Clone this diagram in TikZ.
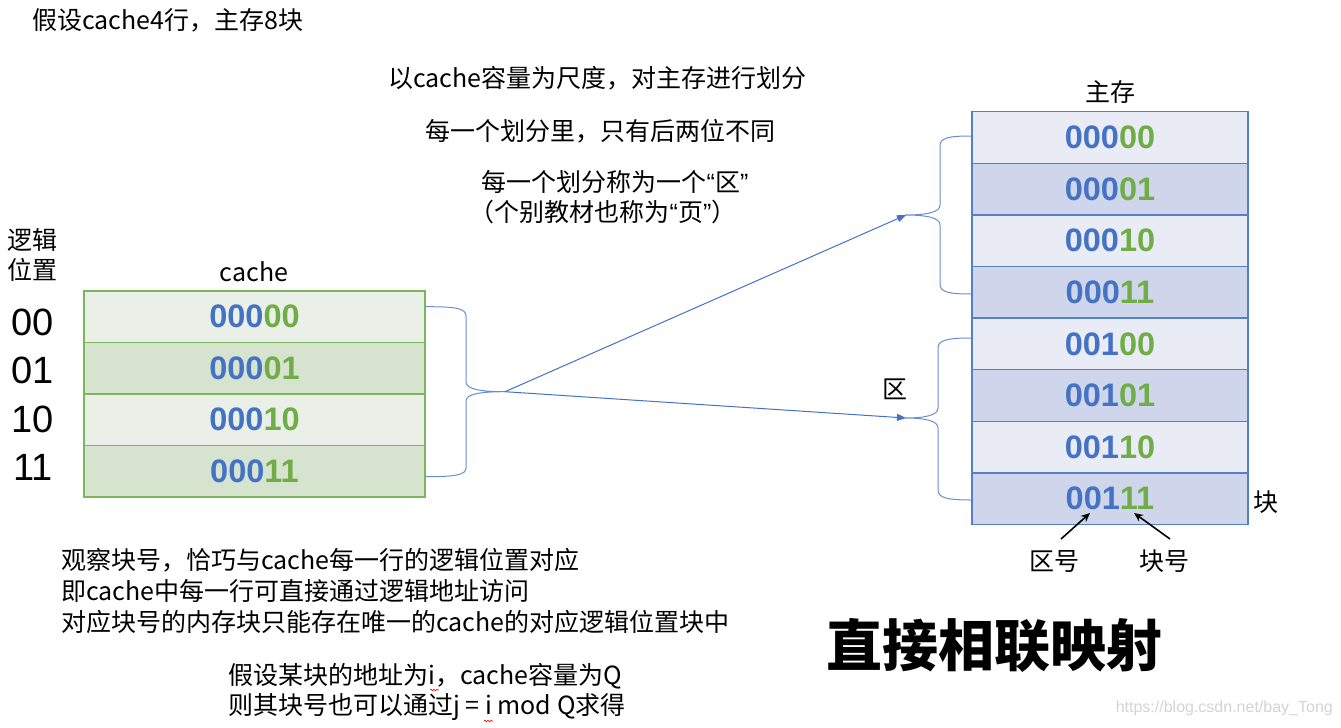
\documentclass[tikz,border=0pt]{standalone}
\usepackage{fontspec}
\setmainfont{Noto Sans CJK SC}
\newfontfamily\digfont{Liberation Sans}
\usetikzlibrary{arrows.meta,decorations.pathmorphing}
\definecolor{cblue}{HTML}{4472C4}
\definecolor{cgreen}{HTML}{70AD47}
\definecolor{cgline}{HTML}{7CB65A}
\definecolor{cglight}{HTML}{EAF0E7}
\definecolor{cgdark}{HTML}{D5E3CF}
\definecolor{mblight}{HTML}{E9EBF5}
\definecolor{mbdark}{HTML}{CFD5EA}
\definecolor{mbline}{HTML}{5580C8}
\definecolor{wmgray}{HTML}{D4D4D4}
\newcommand\bitsA[2]{\textcolor{cblue}{#1}\textcolor{cgreen}{#2}}
\newcommand\myLq{{\digfont “}}
\newcommand\myRq{{\digfont ”}}
\tikzset{
  txt/.style={inner sep=0pt, font=\fontsize{25}{31}\selectfont},
  ccell/.style={draw=cgline, line width=1.5pt, minimum width=341pt, minimum height=51.5pt, inner sep=0pt, font=\digfont\bfseries\fontsize{32.5}{36}\selectfont},
  mcell/.style={draw=mbline, line width=1.5pt, minimum width=276pt, minimum height=51.6pt, inner sep=0pt, font=\digfont\bfseries\fontsize{32.5}{36}\selectfont},
  posnum/.style={inner sep=0pt, font=\digfont\fontsize{38}{40}\selectfont},
  bracepath/.style={draw=cblue!80, line width=1pt},
  conn/.style={draw=cblue, line width=1pt, -{Triangle[length=9pt,width=7pt]}},
  blackarr/.style={draw=black, line width=1.6pt, -{Stealth[length=9pt,width=8pt]}},
  squig/.style={draw=red, line width=0.6pt, decorate, decoration={snake, amplitude=0.8pt, segment length=3pt}}
}
\begin{document}
\begin{tikzpicture}[x=1pt,y=-1pt]
\useasboundingbox (0,0) rectangle (1341,728);
\fill[white] (0,0) rectangle (1341,728);

% top texts
\node[txt, anchor=west] (t1) at (32,20) {假设cache4行，主存8块};
\node[txt, anchor=west] (t2) at (388,78) {以cache容量为尺度，对主存进行划分};
\node[txt, anchor=west] (t3) at (425,131) {每一个划分里，只有后两位不同};
\node[txt] (t4) at (615,182) {每一个划分称为一个\myLq 区\myRq};
\node[txt] (t5) at (603,212) {（个别教材也称为\myLq 页\myRq）};

% logical position labels
\node[txt, anchor=west] (lp1) at (7,240) {逻辑};
\node[txt, anchor=west] (lp2) at (7,270) {位置};
\node[posnum] (p0) at (33,322.5) {00};
\node[posnum] (p1) at (33,370.8) {01};
\node[posnum] (p2) at (33,419) {10};
\node[posnum] (p3) at (33,467.3) {11};

% cache
\node[txt] (cachelbl) at (254,272) {cache};
\node[ccell, fill=cglight] (c0) at (254.5,316.75) {\bitsA{000}{00}};
\node[ccell, fill=cgdark]  (c1) at (254.5,368.25) {\bitsA{000}{01}};
\node[ccell, fill=cglight] (c2) at (254.5,419.75) {\bitsA{000}{10}};
\node[ccell, fill=cgdark]  (c3) at (254.5,471.25) {\bitsA{000}{11}};

% main memory
\node[txt] (mlbl) at (1110,92) {主存};
\node[mcell, fill=mblight] (m0) at (1110,137.5) {\bitsA{000}{00}};
\node[mcell, fill=mbdark]  (m1) at (1110,189.1) {\bitsA{000}{01}};
\node[mcell, fill=mblight] (m2) at (1110,240.7) {\bitsA{000}{10}};
\node[mcell, fill=mbdark]  (m3) at (1110,292.3) {\bitsA{000}{11}};
\node[mcell, fill=mblight] (m4) at (1110,343.9) {\bitsA{001}{00}};
\node[mcell, fill=mbdark]  (m5) at (1110,395.5) {\bitsA{001}{01}};
\node[mcell, fill=mblight] (m6) at (1110,447.1) {\bitsA{001}{10}};
\node[mcell, fill=mbdark]  (m7) at (1110,498.7) {\bitsA{001}{11}};

% cache brace
\draw[bracepath] (426,306.7) .. controls (455,306.7) and (466,308) .. (466,316)
  -- (466,382) .. controls (466,389) and (480,391.7) .. (505,391.7)
  .. controls (480,391.7) and (466,394) .. (466,401)
  -- (466,468) .. controls (466,475) and (455,476.7) .. (426,476.7);
\coordinate (ctip) at (505,391.7);

% memory braces
\draw[bracepath] (971,136) .. controls (948,136) and (940,138) .. (940,146)
  -- (940,205) .. controls (940,212) and (928,215) .. (905,215)
  .. controls (928,215) and (940,218) .. (940,225)
  -- (940,284) .. controls (940,292) and (948,294) .. (971,294);
\coordinate (mtip1) at (906,215);
\draw[bracepath] (971,338) .. controls (948,338) and (938,340) .. (938,348)
  -- (938,408) .. controls (938,415) and (926,418) .. (905,418)
  .. controls (926,418) and (938,421) .. (938,428)
  -- (938,490) .. controls (938,498) and (948,500) .. (971,500);
\coordinate (mtip2) at (906,418);

\draw[conn] (ctip) -- (mtip1);
\draw[conn] (ctip) -- (mtip2);

\node[txt] (qu) at (895,389) {区};
\node[txt] (kuai) at (1266,502) {块};

% bottom labels with arrows
\node[txt] (qh) at (1054,561) {区号};
\node[txt] (kh) at (1164,561) {块号};
\coordinate (qtip) at (1090,513);
\coordinate (ktip) at (1134,513);
\coordinate (qstart) at (1061,539);
\coordinate (kstart) at (1170,539);
\draw[blackarr] (qstart) -- (qtip);
\draw[blackarr] (kstart) -- (ktip);

% bottom texts
\node[txt, anchor=west] (b1) at (61,560) {观察块号，恰巧与cache每一行的逻辑位置对应};
\node[txt, anchor=west] (b2) at (61,591) {即cache中每一行可直接通过逻辑地址访问};
\node[txt, anchor=west] (b3) at (61,622) {对应块号的内存块只能存在唯一的cache的对应逻辑位置块中};
\node[txt, anchor=west] (b4) at (228,676) {假设某块的地址为i，cache容量为Q};
\node[txt, anchor=west] (b5) at (228,707) {则其块号也可以通过j = i mod Q求得};
\draw[squig] (430,690) -- (439,690);
\draw[squig] (484,721) -- (493,721);

% title
\node[inner sep=0pt, anchor=west, font=\bfseries\fontsize{56}{60}\selectfont] (title) at (826,645) {直接相联映射};

% watermark
\node[inner sep=0pt, anchor=east, text=wmgray, font=\digfont\fontsize{16}{18}\selectfont] (wm) at (1333,708) {https://blog.csdn.net/bay\_Tong};
\end{tikzpicture}
\end{document}
